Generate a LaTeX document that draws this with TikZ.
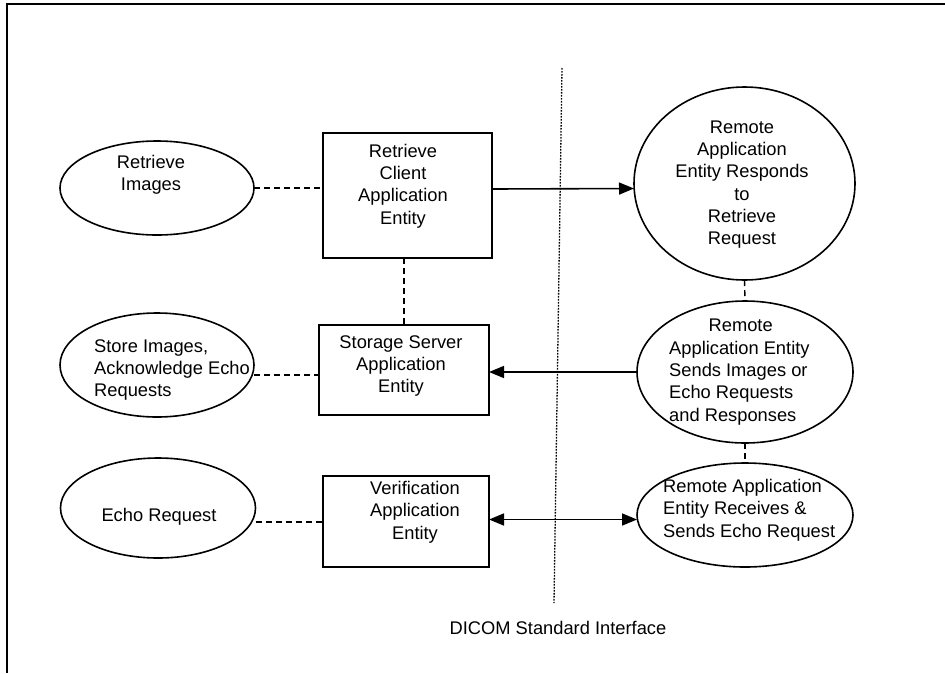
\documentclass[tikz,border=0pt]{standalone}
\usepackage{fontspec}
\setmainfont{Liberation Sans}
\usetikzlibrary{shapes.geometric, arrows.meta, positioning}
\tikzset{
  entity/.style={draw, line width=1.6pt, rectangle, inner sep=0pt, outer sep=0pt},
  oval/.style={draw, line width=1.6pt, ellipse, inner sep=0pt, outer sep=0pt},
  txt/.style={font=\fontsize{18.3}{22.3}\selectfont, inner sep=0pt},
  link/.style={line width=1.4pt, dash pattern=on 6pt off 4pt},
  msg/.style={line width=1.6pt, -{Triangle[length=15pt,width=12pt]}},
  duplex/.style={line width=1.6pt, {Triangle[length=15pt,width=12pt]}-{Triangle[length=15pt,width=12pt]}}
}

\begin{document}
\begin{tikzpicture}[x=1pt, y=-1pt]
\useasboundingbox (0,0) rectangle (945,673);
\draw [line width=2.2pt] (7,673) -- (7,4) -- (945,4);

% local side
\node [oval, minimum width=194, minimum height=94] (rimg) at (157,188) {};
\node [txt, align=center] (rimg-t) at (151,175) {Retrieve\\Images};
\node [entity, minimum width=169, minimum height=125] (rcae) at (407.5,195.5) {};
\node [txt, align=center] (rcae-t) at (403,186) {Retrieve\\Client\\Application\\Entity};

\node [oval, minimum width=194, minimum height=104] (simg) at (157,365) {};
\node [txt, align=left, anchor=west] (simg-t) at (94,370) {Store Images,\\Acknowledge Echo\\Requests};
\node [entity, minimum width=170, minimum height=90] (ssae) at (404,370) {};
\node [txt, align=center] (ssae-t) at (401,366) {Storage Server\\Application\\Entity};

\node [oval, minimum width=195, minimum height=100] (ecreq) at (158,508) {};
\node [txt] (ecreq-t) at (159,517) {Echo Request};
\node [entity, minimum width=166, minimum height=91] (vae) at (406,521.5) {};
\node [txt, align=center] (vae-t) at (415,512) {Verification\\Application\\Entity};

% remote side
\node [oval, minimum width=221, minimum height=193] (rresp) at (744.5,183.5) {};
\node [txt, align=center] (rresp-t) at (742,184.5) {Remote\\Application\\Entity Responds\\to\\Retrieve\\Request};
\node [oval, minimum width=216, minimum height=142] (rsend) at (745,372) {};
\node [txt, align=left, anchor=west] (rsend-t) at (669,372) {\makebox[143pt]{Remote}\\Application Entity\\Sends Images or\\Echo Requests\\and Responses};
\node [oval, minimum width=216, minimum height=104] (recho) at (745,515) {};
\node [txt, align=left, anchor=west] (recho-t) at (663,510) {Remote Application\\Entity Receives \&\\Sends Echo Request};

% interface
\coordinate (ifTop) at (562,68);
\coordinate (ifBot) at (554,603);
\draw [line width=1.3pt, dash pattern=on 1.6pt off 1.4pt] (ifTop) -- (ifBot);
\node [txt] (dicom) at (558,628) {DICOM Standard Interface};

% connections
\draw [link] (rimg.east) -- (rimg.east -| rcae.west);
\draw [link] (ssae.north |- rcae.south) -- (ssae.north);
\draw [link] ([yshift=-10pt]simg.east) -- ([yshift=-5pt]ssae.west);
\draw [link] ([yshift=-0.5pt]ecreq.east |- vae.west) -- ([yshift=-0.5pt]vae.west);
\draw [link] (rresp.south) -- (rsend.north);
\draw [link] (rsend.south) -- (recho.north);

\draw [msg] ([yshift=6.5pt]rcae.east) -- ([yshift=-5pt]rresp.west);
\draw [msg] (rsend.west) -- (rsend.west -| ssae.east);
\draw [duplex] ([yshift=2pt]vae.east) -- ([yshift=2pt]vae.east -| recho.west);
\end{tikzpicture}
\end{document}
